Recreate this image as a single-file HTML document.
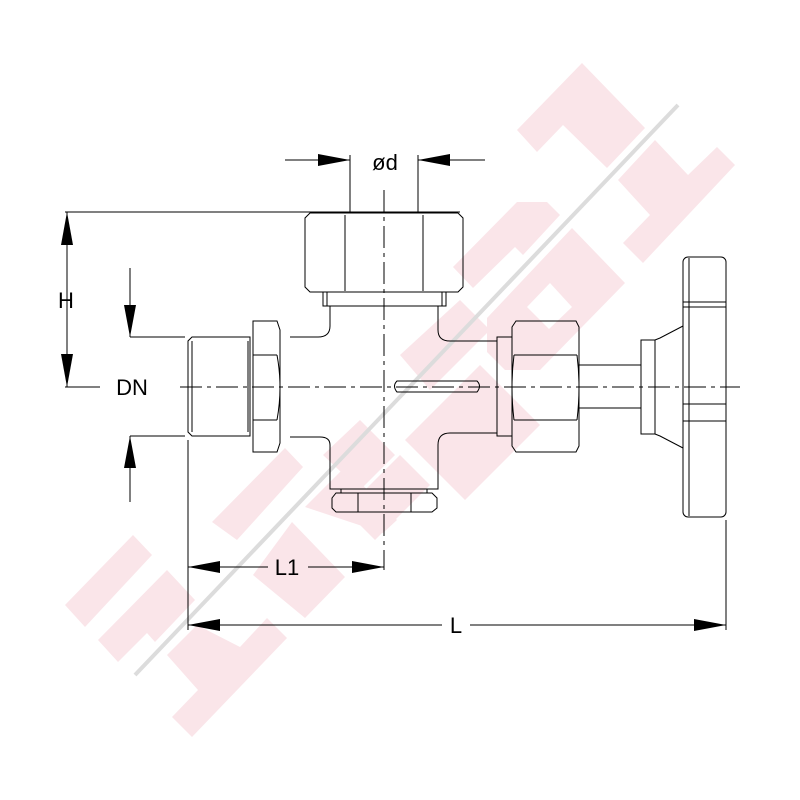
<!DOCTYPE html>
<html><head><meta charset="utf-8"><style>
html,body{margin:0;padding:0;background:#fff}
svg{display:block}
text{font-family:"Liberation Sans",sans-serif;font-size:22px;fill:#000}
</style></head><body>
<svg width="800" height="800" viewBox="0 0 800 800" xmlns="http://www.w3.org/2000/svg">
<g fill="#fae5e9">
<polygon points="517,130 582,63 645,128 607,168 563,125 537,152"/>
<polygon points="618,180 655,140 688,175 717,147 735,165 643,263 623,243 650,215"/>
<polygon points="453,267 517,202 547,202 560,215 523,255 515,247 473,288"/>
<polygon points="487,318 572,228 625,283 540,370 505,370 487,352"/>
<polygon points="400,355 460,300 490,330 430,390"/>
<polygon points="405,440 480,365 540,425 465,500"/>
<polygon points="345,510 400,455 430,485 375,540"/>
<polygon points="65,605 133,535 152,555 85,627"/>
<polygon points="98,640 167,570 195,600 155,642 147,633 118,662"/>
<polygon points="167,655 197,625 240,647 267,618 287,638 192,737 172,717 198,690"/>
<polygon points="212,522 285,448 303,467 237,540"/>
<polygon points="253,575 292,522 345,577 305,618"/>
<polygon points="305,507 345,467 397,520 383,533"/>
<polygon points="323,455 360,420 395,455 360,490"/>
</g>
<g fill="#fff">
<polygon points="550,283 572,307 549,329 527,307"/>
</g>
<line x1="135" y1="675" x2="678" y2="105" stroke="#dcdcdc" stroke-width="4"/>
<g stroke="#000" stroke-width="1" fill="none">
<path d="M310 213 L458 213 L463 218 L463 287 L458 292 L310 292 L305 287 L305 218 Z"/>
<line x1="345" y1="215" x2="345" y2="291"/><line x1="423" y1="215" x2="423" y2="291"/>
<rect x="323" y="292" width="123" height="14"/>
<line x1="327" y1="292" x2="327" y2="306"/><line x1="442" y1="292" x2="442" y2="306"/>
<path d="M330 306 L330 326 Q330 337 318 337 L290 337"/>
<path d="M438 306 L438 330 Q438 341 450 341 L497 341"/>
<path d="M290 437 L320 437 Q330 437 330 445 L330 489 L438 489 L438 445 Q438 433 450 433 L497 433"/>
<path d="M341 489 L341 493 M427 489 L427 493"/>
<path d="M336 493 L432 493 L437 498 L437 508 L432 512 L336 512 L332 508 L332 498 Z"/>
<line x1="358" y1="493" x2="358" y2="512"/><line x1="411" y1="493" x2="411" y2="512"/>
<path d="M253 321 L277 321 L280 330 L280 443 L277 452 L253 452 Z"/>
<line x1="253" y1="355" x2="277" y2="355"/><line x1="253" y1="420" x2="277" y2="420"/>
<path d="M277 355 Q283 387 277 420"/>
<path d="M192 337 L250 337 L250 436 L192 436 L188 432 L188 341 Z"/>
<line x1="192" y1="341" x2="192" y2="432"/><line x1="248" y1="341" x2="248" y2="432"/>
<path d="M397 381 L477 381 Q482 386 477 392 L397 392 Q392 386 397 381 Z"/>
<rect x="497" y="337" width="15" height="99"/>
<path d="M516 321 L576 321 L579 327 L579 446 L576 452 L516 452 L512 446 L512 327 Z"/>
<line x1="514" y1="355" x2="577" y2="355"/><line x1="514" y1="420" x2="577" y2="420"/>
<path d="M514 355 Q510 387 514 420 M577 355 Q581 387 577 420"/>
<line x1="579" y1="365" x2="641" y2="365"/><line x1="579" y1="408" x2="641" y2="408"/>
<rect x="641" y="340" width="14" height="94"/>
<path d="M655 340 L660 338 L683 326 M655 434 L660 436 L683 448"/>
<rect x="683" y="257" width="43" height="260" rx="5"/>
<line x1="689" y1="258" x2="689" y2="516"/>
<line x1="683" y1="302" x2="726" y2="302"/><line x1="683" y1="307" x2="726" y2="307"/>
<line x1="683" y1="404" x2="726" y2="404"/><line x1="683" y1="421" x2="726" y2="421"/>
<line x1="180" y1="387" x2="740" y2="387" stroke-dasharray="22 5 4 5"/>
<line x1="384" y1="190" x2="384" y2="570" stroke-dasharray="22 5 4 5"/>
<line x1="65" y1="212" x2="460" y2="212"/>
<line x1="67" y1="212" x2="67" y2="387"/>
<line x1="65" y1="387" x2="100" y2="387"/>
<line x1="130" y1="268" x2="130" y2="337"/><line x1="130" y1="436" x2="130" y2="502"/>
<line x1="130" y1="337" x2="185" y2="337"/><line x1="130" y1="436" x2="185" y2="436"/>
<line x1="350" y1="155" x2="350" y2="213"/><line x1="418" y1="155" x2="418" y2="213"/>
<line x1="285" y1="160" x2="350" y2="160"/><line x1="418" y1="160" x2="485" y2="160"/>
<line x1="188" y1="440" x2="188" y2="630"/>
<line x1="726" y1="520" x2="726" y2="630"/>
<line x1="188" y1="567" x2="268" y2="567"/><line x1="308" y1="567" x2="384" y2="567"/>
<line x1="188" y1="625" x2="442" y2="625"/><line x1="470" y1="625" x2="726" y2="625"/>
</g>
<g fill="#000">
<polygon points="67,212 61,245 73,245"/><polygon points="67,387 61,354 73,354"/>
<polygon points="130,337 124,305 136,305"/><polygon points="130,436 124,468 136,468"/>
<polygon points="350,160 318,154 318,166"/><polygon points="418,160 450,154 450,166"/>
<polygon points="188,567 220,561 220,573"/><polygon points="384,567 352,561 352,573"/>
<polygon points="188,625 220,619 220,631"/><polygon points="726,625 694,619 694,631"/>
</g>
<text x="66" y="308" text-anchor="middle">H</text>
<text x="132" y="395" text-anchor="middle">DN</text>
<text x="385" y="170" text-anchor="middle">ød</text>
<text x="287" y="575" text-anchor="middle">L1</text>
<text x="456" y="633" text-anchor="middle">L</text>
</svg>
</body></html>
